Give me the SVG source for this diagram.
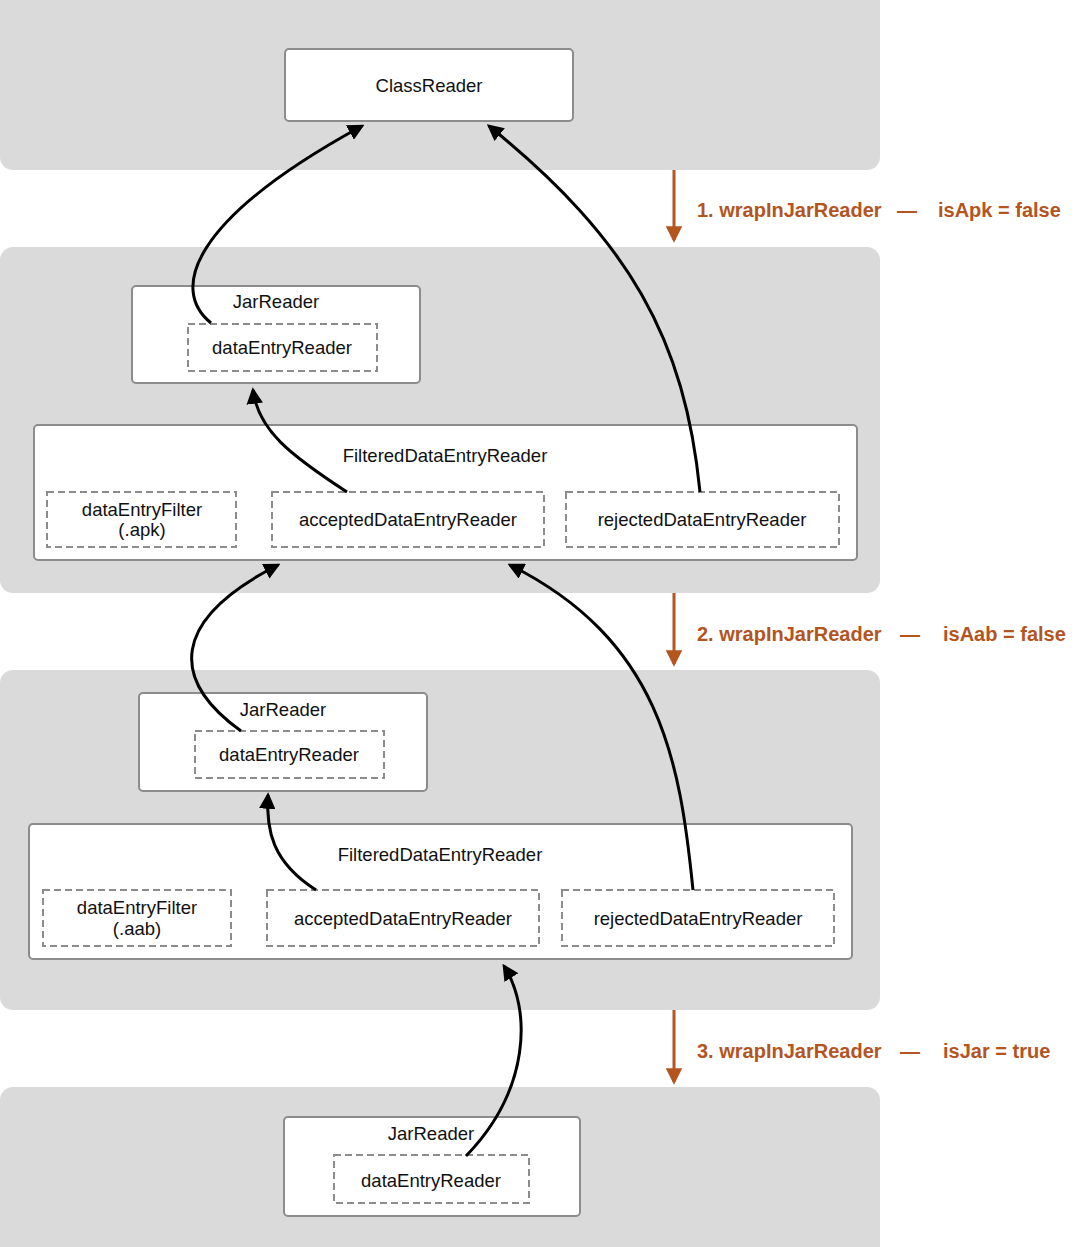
<svg xmlns="http://www.w3.org/2000/svg" width="1080" height="1247" viewBox="0 0 1080 1247">
<style>
.panel{fill:#dadada}
.box{fill:#fff;stroke:#8c8c8c;stroke-width:2}
.dash{fill:none;stroke:#8c8c8c;stroke-width:2;stroke-dasharray:7 4}
.t{font-family:"Liberation Sans",Arial,Helvetica,sans-serif;font-size:18.5px;fill:#111;text-anchor:middle}
.lbl{font-family:"Liberation Sans",Arial,Helvetica,sans-serif;font-size:20px;font-weight:bold;fill:#b4541f}
.conn{fill:none;stroke:#000;stroke-width:3;marker-end:url(#ah)}
.step{fill:none;stroke:#b4541f;stroke-width:3;marker-end:url(#oh)}
</style>
<defs>
<marker id="ah" viewBox="0 0 12 12" refX="10" refY="6" markerWidth="5.5" markerHeight="5.5" orient="auto" markerUnits="strokeWidth">
<path d="M0,0 L12,6 L0,12 z" fill="#000"/>
</marker>
<marker id="oh" viewBox="0 0 12 12" refX="10" refY="6" markerWidth="5.5" markerHeight="5.5" orient="auto" markerUnits="strokeWidth">
<path d="M0,0 L12,6 L0,12 z" fill="#b4541f"/>
</marker>
</defs>

<g id="panels">
<rect class="panel" x="0" y="-14" width="880" height="184" rx="13"/>
<rect class="panel" x="0" y="247" width="880" height="346" rx="13"/>
<rect class="panel" x="0" y="670" width="880" height="340" rx="13"/>
<rect class="panel" x="0" y="1087" width="880" height="175" rx="13"/>
</g>

<g id="classreader">
<rect class="box" x="285" y="49" width="288" height="72" rx="4"/>
<text class="t" x="429" y="92">ClassReader</text>
</g>

<g id="jarreader1">
<rect class="box" x="132" y="286" width="288" height="97" rx="4"/>
<text class="t" x="276" y="308">JarReader</text>
<rect class="dash" x="188" y="324" width="189" height="47"/>
<text class="t" x="282" y="354">dataEntryReader</text>
</g>

<g id="filtered1">
<rect class="box" x="34" y="425" width="823" height="135" rx="4"/>
<text class="t" x="445" y="462">FilteredDataEntryReader</text>
<rect class="dash" x="47" y="492" width="189" height="55"/>
<text class="t" x="142" y="516">dataEntryFilter</text>
<text class="t" x="142" y="536">(.apk)</text>
<rect class="dash" x="272" y="492" width="272" height="55"/>
<text class="t" x="408" y="526">acceptedDataEntryReader</text>
<rect class="dash" x="566" y="492" width="273" height="55"/>
<text class="t" x="702" y="526">rejectedDataEntryReader</text>
</g>

<g id="jarreader2">
<rect class="box" x="139" y="693" width="288" height="98" rx="4"/>
<text class="t" x="283" y="716">JarReader</text>
<rect class="dash" x="195" y="731" width="189" height="47"/>
<text class="t" x="289" y="761">dataEntryReader</text>
</g>

<g id="filtered2">
<rect class="box" x="29" y="824" width="823" height="135" rx="4"/>
<text class="t" x="440" y="861">FilteredDataEntryReader</text>
<rect class="dash" x="43" y="890" width="188" height="56"/>
<text class="t" x="137" y="914">dataEntryFilter</text>
<text class="t" x="137" y="935">(.aab)</text>
<rect class="dash" x="267" y="890" width="272" height="56"/>
<text class="t" x="403" y="925">acceptedDataEntryReader</text>
<rect class="dash" x="562" y="890" width="272" height="56"/>
<text class="t" x="698" y="925">rejectedDataEntryReader</text>
</g>

<g id="jarreader3">
<rect class="box" x="284" y="1117" width="296" height="99" rx="4"/>
<text class="t" x="431" y="1140">JarReader</text>
<rect class="dash" x="334" y="1155" width="195" height="48"/>
<text class="t" x="431" y="1187">dataEntryReader</text>
</g>

<g id="connectors">
<path class="conn" d="M211,323 C170,290 190,220 362,126"/>
<path class="conn" d="M700,492 C685,340 630,240 489,126"/>
<path class="conn" d="M347,492 C290,455 258,430 253,390"/>
<path class="conn" d="M241,731 C170,680 170,620 278,565"/>
<path class="conn" d="M693,890 C680,760 660,640 510,565"/>
<path class="conn" d="M316,890 C272,862 266,830 268,795"/>
<path class="conn" d="M466,1156 C530,1090 532,1010 504,966"/>
<path class="step" d="M674,170 L674,240"/>
<path class="step" d="M674,593 L674,664"/>
<path class="step" d="M674,1010 L674,1082"/>
</g>

<g id="labels">
<text class="lbl" x="697" y="217">1. wrapInJarReader</text>
<text class="lbl" x="897" y="217">—</text>
<text class="lbl" x="938" y="217">isApk = false</text>
<text class="lbl" x="697" y="641">2. wrapInJarReader</text>
<text class="lbl" x="900" y="641">—</text>
<text class="lbl" x="943" y="641">isAab = false</text>
<text class="lbl" x="697" y="1058">3. wrapInJarReader</text>
<text class="lbl" x="900" y="1058">—</text>
<text class="lbl" x="943" y="1058">isJar = true</text>
</g>
</svg>
